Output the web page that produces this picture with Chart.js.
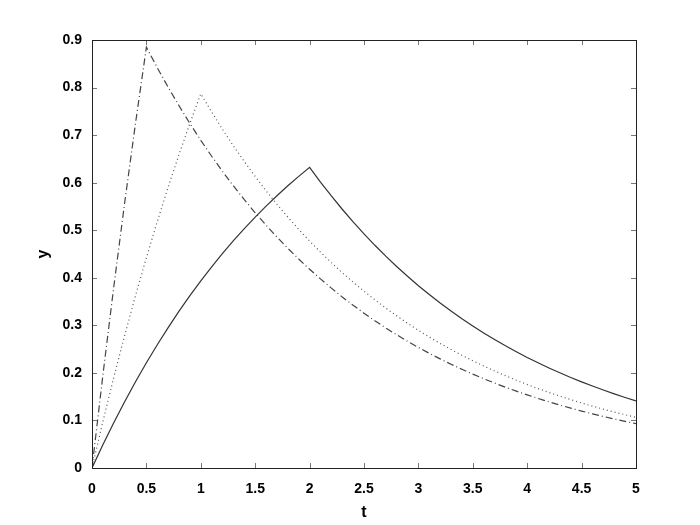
<!DOCTYPE html>
<html>
<head>
<meta charset="utf-8">
<script src="https://cdn.jsdelivr.net/npm/chart.js@4/dist/chart.umd.min.js"></script>
<style>
  body { margin: 0; background: #fff; }
  #wrap { width: 700px; height: 525px; }
</style>
</head>
<body>
<div id="wrap"><canvas id="c" width="700" height="525"></canvas></div>
<script>
// thời gian t
const tValues = [0, 0.1, 0.2, 0.3, 0.4, 0.5, 0.6, 0.7, 0.8, 0.9, 1.0,
  1.1, 1.2, 1.3, 1.4, 1.5, 1.6, 1.7, 1.8, 1.9, 2.0,
  2.1, 2.2, 2.3, 2.4, 2.5, 2.6, 2.7, 2.8, 2.9, 3.0,
  3.1, 3.2, 3.3, 3.4, 3.5, 3.6, 3.7, 3.8, 3.9, 4.0,
  4.1, 4.2, 4.3, 4.4, 4.5, 4.6, 4.7, 4.8, 4.9, 5.0];

// đường liền (đỉnh tại t = 2)
const ySolid = [0, 0.0488, 0.0952, 0.1393, 0.1813, 0.2212, 0.2592, 0.2953, 0.3297, 0.3624, 0.3935,
  0.4231, 0.4512, 0.4780, 0.5034, 0.5276, 0.5507, 0.5726, 0.5934, 0.6133, 0.6321,
  0.6013, 0.5720, 0.5441, 0.5175, 0.4923, 0.4683, 0.4454, 0.4237, 0.4031, 0.3834,
  0.3647, 0.3469, 0.3300, 0.3139, 0.2986, 0.2840, 0.2702, 0.2570, 0.2445, 0.2325,
  0.2212, 0.2104, 0.2002, 0.1904, 0.1811, 0.1723, 0.1639, 0.1559, 0.1483, 0.1410];

// đường chấm (đỉnh tại t = 1)
const yDotted = [0, 0.0975, 0.1903, 0.2786, 0.3625, 0.4424, 0.5184, 0.5906, 0.6594, 0.7248, 0.7869,
  0.7486, 0.7120, 0.6773, 0.6443, 0.6129, 0.5830, 0.5545, 0.5275, 0.5018, 0.4773,
  0.4540, 0.4319, 0.4108, 0.3908, 0.3717, 0.3536, 0.3364, 0.3199, 0.3043, 0.2895,
  0.2754, 0.2620, 0.2492, 0.2370, 0.2255, 0.2145, 0.2040, 0.1941, 0.1846, 0.1756,
  0.1670, 0.1589, 0.1511, 0.1438, 0.1367, 0.1301, 0.1237, 0.1177, 0.1120, 0.1065];

// đường gạch chấm (đỉnh tại t = 0.5)
const yDashDot = [0, 0.1951, 0.3807, 0.5572, 0.7251, 0.8848, 0.8416, 0.8006, 0.7616, 0.7244, 0.6891,
  0.6555, 0.6235, 0.5931, 0.5642, 0.5367, 0.5105, 0.4856, 0.4619, 0.4394, 0.4179,
  0.3976, 0.3782, 0.3597, 0.3422, 0.3255, 0.3096, 0.2945, 0.2802, 0.2665, 0.2535,
  0.2411, 0.2294, 0.2182, 0.2075, 0.1974, 0.1878, 0.1786, 0.1699, 0.1616, 0.1538,
  0.1463, 0.1391, 0.1323, 0.1259, 0.1197, 0.1139, 0.1083, 0.1031, 0.0980, 0.0933];

const xTicks = [0, 0.5, 1, 1.5, 2, 2.5, 3, 3.5, 4, 4.5, 5];
const yTicks = [0, 0.1, 0.2, 0.3, 0.4, 0.5, 0.6, 0.7, 0.8, 0.9];

function toPoints(ys) {
  return tValues.map((t, i) => ({ x: t, y: ys[i] }));
}

// Plugin vẽ khung và vạch chia hướng vào trong (kiểu MATLAB)
const boxTicks = {
  id: 'boxTicks',
  afterDatasetsDraw(chart) {
    const { ctx, chartArea: a, scales } = chart;
    const len = 5;
    ctx.save();
    ctx.strokeStyle = '#777';
    ctx.lineWidth = 1;
    ctx.beginPath();
    xTicks.forEach(v => {
      const px = Math.round(scales.x.getPixelForValue(v)) + 0.5;
      ctx.moveTo(px, a.bottom); ctx.lineTo(px, a.bottom - len);
      ctx.moveTo(px, a.top); ctx.lineTo(px, a.top + len);
    });
    yTicks.forEach(v => {
      const py = Math.round(scales.y.getPixelForValue(v)) + 0.5;
      ctx.moveTo(a.left, py); ctx.lineTo(a.left + len, py);
      ctx.moveTo(a.right, py); ctx.lineTo(a.right - len, py);
    });
    ctx.stroke();
    ctx.strokeStyle = '#222';
    ctx.strokeRect(Math.round(a.left) + 0.5, Math.round(a.top) + 0.5,
      Math.round(a.right - a.left), Math.round(a.bottom - a.top));
    ctx.restore();
  }
};

const tickFont = { family: 'Liberation Sans', size: 14, weight: 'bold' };
const titleFont = { family: 'Liberation Sans', size: 16, weight: 'bold' };
const fmt = v => String(Math.round(v * 10) / 10);

new Chart(document.getElementById('c'), {
  type: 'line',
  data: {
    datasets: [
      {
        data: toPoints(ySolid),
        borderColor: '#333',
        borderWidth: 1.2,
        pointRadius: 0,
        tension: 0,
      },
      {
        data: toPoints(yDotted),
        borderColor: '#555',
        borderWidth: 1.2,
        borderDash: [1, 3],
        pointRadius: 0,
        tension: 0,
      },
      {
        data: toPoints(yDashDot),
        borderColor: '#444',
        borderWidth: 1.2,
        borderDash: [7, 3, 1, 3],
        pointRadius: 0,
        tension: 0,
      },
    ],
  },
  options: {
    responsive: false,
    animation: false,
    layout: { padding: { top: 40, right: 64, left: 0, bottom: 0 } },
    plugins: { legend: { display: false }, tooltip: { enabled: false } },
    scales: {
      x: {
        type: 'linear',
        min: 0,
        max: 5,
        afterBuildTicks: s => { s.ticks = xTicks.map(v => ({ value: v })); },
        afterFit: s => { s.height = 57; },
        grid: { display: false, drawTicks: false },
        border: { display: false },
        ticks: { color: '#000', font: tickFont, padding: 13, maxRotation: 0, callback: fmt },
        title: { display: true, text: 't', color: '#000', font: titleFont, padding: { top: 0, bottom: 3 } },
      },
      y: {
        type: 'linear',
        min: 0,
        max: 0.9,
        afterBuildTicks: s => { s.ticks = yTicks.map(v => ({ value: v })); },
        afterFit: s => { s.width = 92; },
        grid: { display: false, drawTicks: false },
        border: { display: false },
        ticks: { color: '#000', font: tickFont, padding: 10, callback: fmt },
        title: { display: true, text: 'y', color: '#000', font: titleFont, padding: { top: 34, bottom: 0 } },
      },
    },
  },
  plugins: [boxTicks],
});
</script>
</body>
</html>
